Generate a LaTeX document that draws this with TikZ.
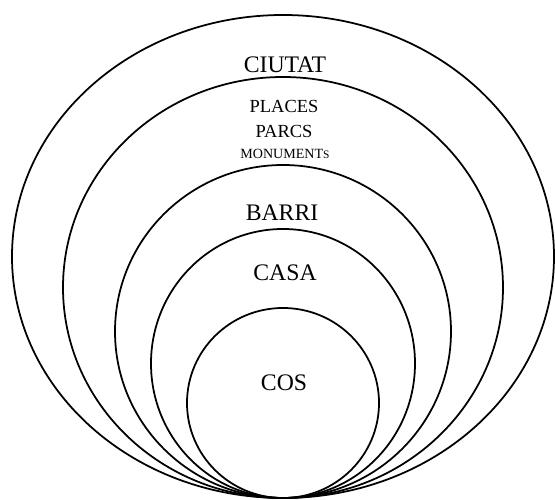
\documentclass[tikz,border=0pt]{standalone}
\usepackage{fontspec}
\setmainfont{Liberation Serif}
\tikzset{every node/.append style={align=center}}
\tikzset{
  ring/.style={draw=black, line width=1pt},
  lvl/.style={font=\fontsize{13.5}{15}\selectfont, inner sep=1pt},
  sublvl/.style={font=\fontsize{10.5}{12}\selectfont, inner sep=1pt}
}

\begin{document}
\begin{tikzpicture}[x=0.02cm, y=0.02cm]
\useasboundingbox (0,0) rectangle (555,500);

% ── Nested rings, all touching at the bottom ────────────────────────────────
\foreach \rx/\ry in {271/241.5, 220/210.5, 168/166.5, 132/134.5, 96/95} {
  \draw[ring] (283,2+\ry) ellipse [x radius=\rx, y radius=\ry];
}

% ── Labels ──────────────────────────────────────────────────────────────────
\node[lvl] (ciutat) at (285,435) {CIUTAT};
\node[sublvl] (places) at (284,394) {PLACES};
\node[sublvl] (parcs) at (284,369) {PARCS};
\node[inner sep=1pt] (monuments) at (285,346)
     {\fontsize{8}{10}\selectfont MONUMENT\fontsize{6.5}{8}\selectfont S};
\node[lvl] (barri) at (282,287) {BARRI};
\node[lvl] (casa) at (285,227) {CASA};
\node[lvl] (cos) at (284,117) {COS};

\end{tikzpicture}
\end{document}
